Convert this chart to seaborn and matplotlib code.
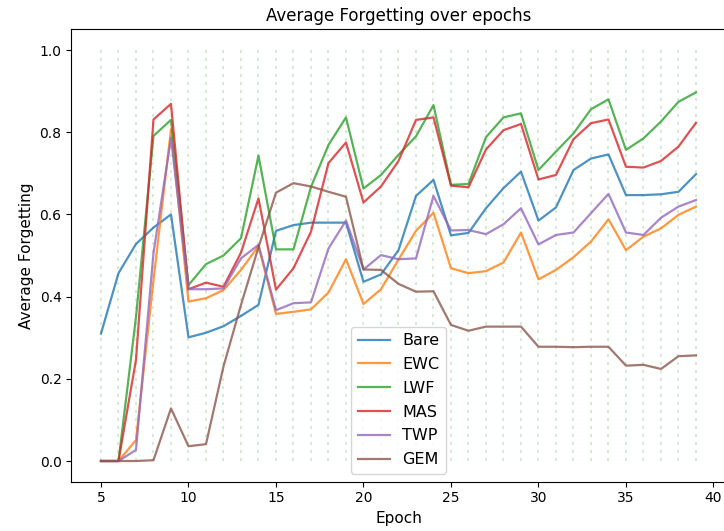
import matplotlib
matplotlib.use("Agg")
import matplotlib.pyplot as plt
import numpy as np
import pandas as pd
import seaborn as sns

epochs = list(range(5, 40))

bare = [0.310, 0.457, 0.528, 0.568, 0.600, 0.301, 0.312, 0.328, 0.353, 0.380,
        0.560, 0.574, 0.580, 0.580, 0.580, 0.436, 0.454, 0.513, 0.645, 0.684,
        0.549, 0.555, 0.615, 0.664, 0.704, 0.585, 0.617, 0.708, 0.736, 0.746,
        0.647, 0.647, 0.649, 0.655, 0.698]
ewc = [0.000, 0.000, 0.051, 0.440, 0.807, 0.388, 0.396, 0.416, 0.465, 0.523,
       0.358, 0.363, 0.369, 0.410, 0.491, 0.382, 0.418, 0.490, 0.560, 0.604,
       0.469, 0.457, 0.462, 0.483, 0.556, 0.442, 0.465, 0.496, 0.534, 0.588,
       0.513, 0.546, 0.566, 0.599, 0.619]
lwf = [0.000, 0.000, 0.350, 0.791, 0.830, 0.428, 0.479, 0.500, 0.542, 0.743,
       0.515, 0.515, 0.667, 0.769, 0.836, 0.663, 0.696, 0.745, 0.790, 0.866,
       0.672, 0.674, 0.788, 0.836, 0.846, 0.708, 0.753, 0.797, 0.856, 0.880,
       0.757, 0.785, 0.826, 0.874, 0.897]
mas = [0.000, 0.000, 0.246, 0.831, 0.869, 0.418, 0.434, 0.424, 0.507, 0.639,
       0.417, 0.469, 0.558, 0.725, 0.775, 0.629, 0.668, 0.730, 0.830, 0.836,
       0.670, 0.666, 0.758, 0.805, 0.820, 0.685, 0.696, 0.783, 0.822, 0.831,
       0.716, 0.714, 0.730, 0.765, 0.823]
twp = [0.000, 0.000, 0.027, 0.506, 0.786, 0.418, 0.418, 0.420, 0.493, 0.526,
       0.367, 0.384, 0.386, 0.517, 0.585, 0.466, 0.501, 0.491, 0.493, 0.645,
       0.561, 0.562, 0.552, 0.576, 0.615, 0.527, 0.550, 0.556, 0.603, 0.650,
       0.556, 0.550, 0.592, 0.619, 0.635]
gem = [0.000, 0.000, 0.000, 0.002, 0.128, 0.036, 0.041, 0.230, 0.380, 0.520,
       0.653, 0.676, 0.668, 0.655, 0.643, 0.466, 0.465, 0.431, 0.412, 0.413,
       0.331, 0.317, 0.327, 0.327, 0.327, 0.278, 0.278, 0.277, 0.278, 0.278,
       0.232, 0.234, 0.224, 0.255, 0.257]

methods = ["Bare", "EWC", "LWF", "MAS", "TWP", "GEM"]
series = [bare, ewc, lwf, mas, twp, gem]

df = pd.concat(
    [pd.DataFrame({"Epoch": epochs, "Average Forgetting": vals, "Method": name})
     for name, vals in zip(methods, series)],
    ignore_index=True,
)

fig = plt.figure(figsize=(7.24, 5.31), dpi=100)
ax = fig.add_axes([0.0984, 0.0931, 0.904, 0.8514])

# faint dotted guides at every epoch
ax.vlines(epochs, 0, 1.0, colors="#2ca02c", alpha=0.2,
          linewidth=1.5, linestyles=(0, (1, 2.7)), antialiased=False)

sns.lineplot(data=df, x="Epoch", y="Average Forgetting", hue="Method",
             hue_order=methods, palette="tab10", alpha=0.8,
             linewidth=1.6, ax=ax)

ax.set_xticks([5, 10, 15, 20, 25, 30, 35, 40])
ax.set_yticks([0.0, 0.2, 0.4, 0.6, 0.8, 1.0])
ax.set_xlim(3.3, 40.7)
ax.set_ylim(-0.05, 1.05)
ax.set_title("Average Forgetting over epochs", fontsize=12)
ax.set_xlabel("Epoch", fontsize=11)
ax.set_ylabel("Average Forgetting", fontsize=11)
ax.tick_params(labelsize=10)
sns.move_legend(ax, "lower center", title=None, fontsize=11.5,
                labelspacing=0.55)

fig.savefig("out.png", dpi=100)
